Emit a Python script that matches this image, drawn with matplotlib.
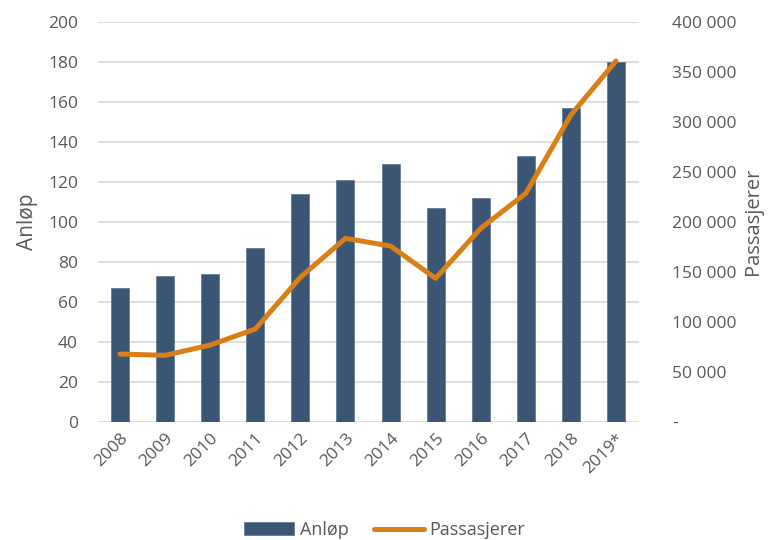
import matplotlib
matplotlib.use("Agg")
import matplotlib.pyplot as plt
from matplotlib.ticker import FuncFormatter

# Data
years = ["2008", "2009", "2010", "2011", "2012", "2013", "2014", "2015", "2016", "2017", "2018", "2019*"]
anlop = [67, 73, 74, 87, 114, 121, 129, 107, 112, 133, 157, 180]
passasjerer = [67700, 66400, 76700, 92700, 144400, 183400, 175700, 143400, 193400, 228400, 306700, 360700]

bar_color = "#3A5674"
line_color = "#D97F16"
text_color = "#595959"

plt.rcParams["font.family"] = ["Open Sans", "DejaVu Sans"]

fig = plt.figure(figsize=(7.69, 5.4), dpi=100)
ax = fig.add_axes([0.1268, 0.219, 0.7035, 0.7408])
ax2 = ax.twinx()

x = list(range(len(years)))
bars = ax.bar(x, anlop, width=0.4, color=bar_color, edgecolor="#5A7290", linewidth=0.5, label="Anløp", zorder=2)
line, = ax2.plot(x, passasjerer, color=line_color, linewidth=3.6, solid_capstyle="round", label="Passasjerer", zorder=3)

ax.set_xlim(-0.5, len(years) - 0.5)
ax.set_ylim(0, 200)
ax.set_yticks(range(0, 201, 20))
ax2.set_ylim(0, 400000)
ax2.set_yticks(range(0, 400001, 50000))
ax2.yaxis.set_major_formatter(FuncFormatter(lambda v, p: "-" if v == 0 else f"{int(v):,}".replace(",", " ")))

ax.grid(axis="y", color="#D9D9D9", linewidth=1.2, zorder=0)
ax.set_axisbelow(True)
for a in (ax, ax2):
    for s in a.spines.values():
        s.set_visible(False)
    a.tick_params(length=0, labelsize=12.5, colors=text_color)

ax.set_xticks(x)
ax.set_xticklabels(years, rotation=45, ha="right", rotation_mode="anchor")
ax.tick_params(axis="x", pad=6)
ax.tick_params(axis="y", pad=14)
ax2.tick_params(axis="y", pad=24)

ax.set_ylabel("Anløp", fontsize=15, color=text_color, labelpad=7)
ax2.set_ylabel("Passasjerer", fontsize=14.5, color=text_color, labelpad=5)

fig.legend([bars, line], ["Anløp", "Passasjerer"], loc="lower center", ncol=2,
           bbox_to_anchor=(0.5, -0.028), frameon=False, fontsize=13,
           labelcolor=text_color, handlelength=2.8, handletextpad=0.3, columnspacing=1.4)

fig.savefig("out.png", dpi=100)
